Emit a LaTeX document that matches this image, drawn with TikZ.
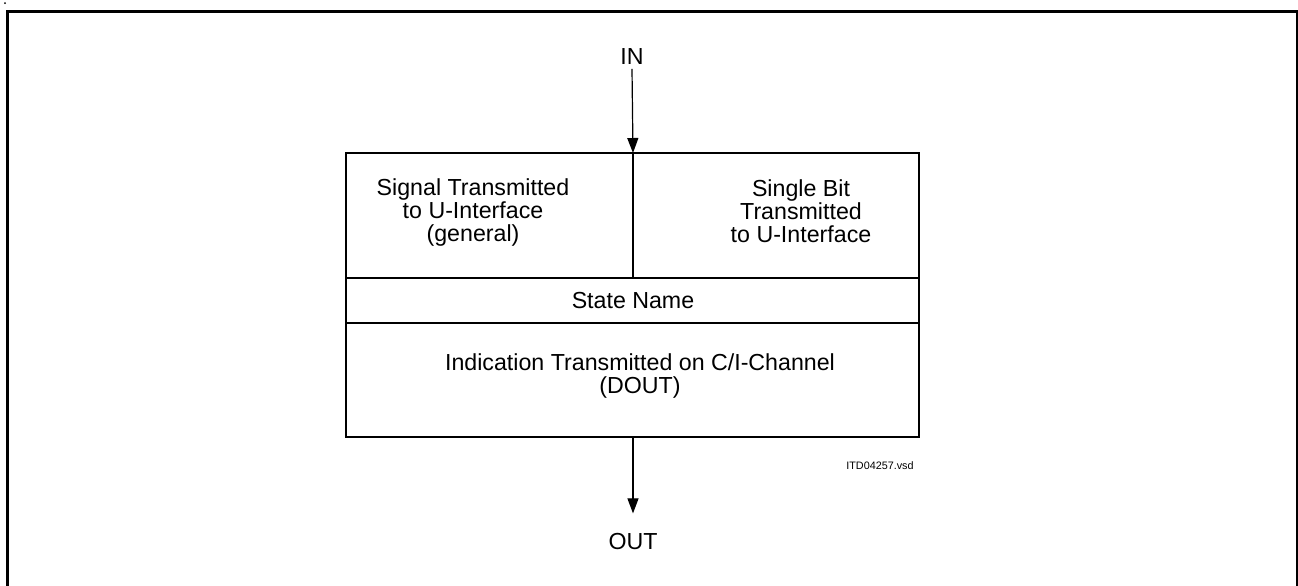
\documentclass[tikz,border=0pt]{standalone}
\usepackage{fontspec}
\setmainfont{Liberation Sans}
\usetikzlibrary{arrows.meta}
\begin{document}
\begin{tikzpicture}[x=0.5pt,y=-0.5pt,
        cella/.style={inner sep=0pt, align=center, font=\fontsize{11.6}{11.5}\selectfont},
        freccia/.style={-{Triangle[length=7.5pt,width=5.5pt]}, line width=0.6pt},
        bordo/.style={line width=1.1pt}]

        % 1. Cornice esterna e area utile
        \useasboundingbox (0,0) rectangle (1298,585);
        \draw[line width=1.5pt] (7,600) -- (7,11) -- (1297,11) -- (1297,600);
        \fill (5,3) circle (1);

        % 2. Riquadro con le celle
        \coordinate (nw) at (346,153);
        \coordinate (se) at (919,437);
        \coordinate (top) at (633,153);
        \coordinate (bot) at (633,437);
        \draw[bordo] (nw) rectangle (se);
        \draw[bordo] (top) -- (633,278);
        \draw[bordo] (346,278) -- (919,278);
        \draw[bordo] (346,323) -- (919,323);

        % 3. Testi delle celle
        \node[cella] (segnale) at (473,212) {Signal Transmitted\\to U-Interface\\(general)};
        \node[cella] (bit) at (801,211) {Single Bit\\Transmitted\\to U-Interface};
        \node[cella] (stato) at (633,301) {State Name};
        \node[cella] (indic) at (640,375.5) {Indication Transmitted on C/I-Channel\\(DOUT)};
        \node[inner sep=0pt, anchor=east, font=\fontsize{5.4}{6}\selectfont] (file) at (914,466) {ITD04257.vsd};

        % 4. Ingresso e uscita
        \node[cella] (in) at (632,56.5) {IN};
        \node[cella] (out) at (633,542) {OUT};
        \draw[freccia] ([yshift=-2]in.south) -- (top);
        \draw[freccia] (bot) -- ([yshift=10]out.north);
    \end{tikzpicture}
\end{document}
